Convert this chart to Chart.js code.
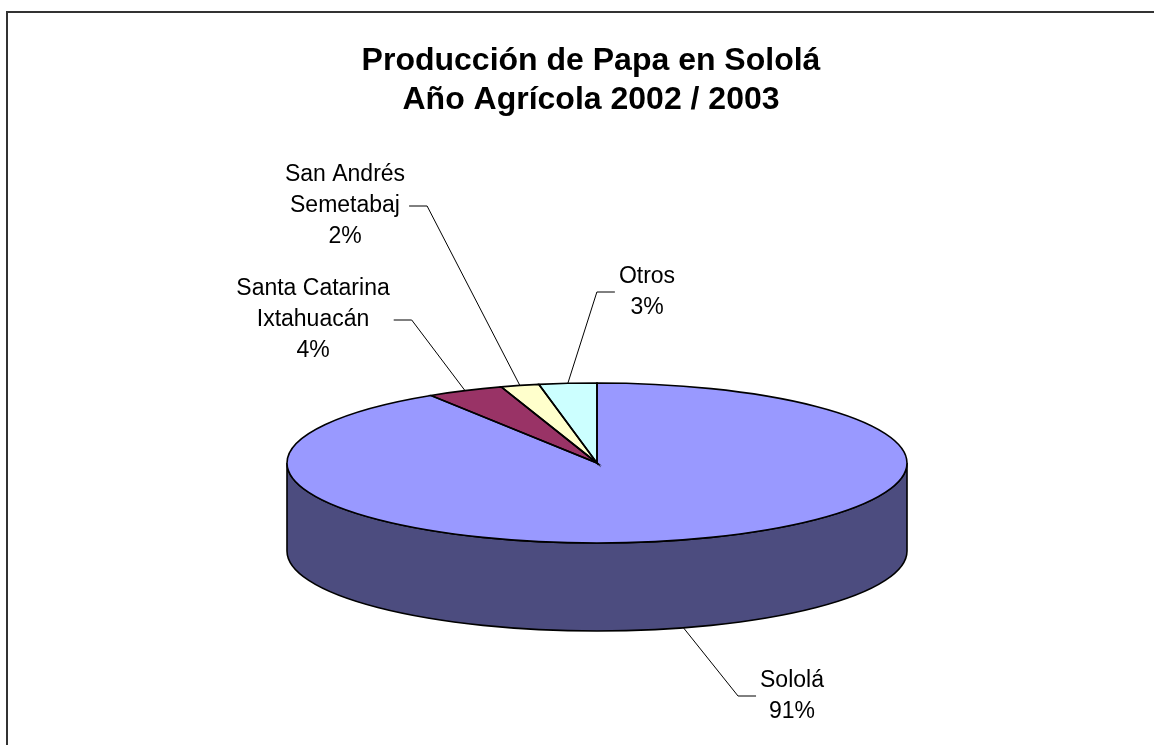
<!DOCTYPE html>
<html>
<head>
<meta charset="utf-8">
<script src="https://cdn.jsdelivr.net/npm/chart.js@4.4.1/dist/chart.umd.min.js"></script>
<style>
  html, body { margin: 0; padding: 0; background: #fff; }
  #wrap { position: relative; width: 1154px; height: 745px; }
</style>
</head>
<body>
<div id="wrap"><canvas id="pie"></canvas></div>
<script>
// datos
const categories = ['Sololá', 'Santa Catarina Ixtahuacán', 'San Andrés Semetabaj', 'Otros'];
const production = [91, 4, 2, 3];
const titleLines = ['Producción de Papa en Sololá', 'Año Agrícola 2002 / 2003'];

// estilo / posiciones
const topColors = ['#9999ff', '#993366', '#ffffcc', '#ccffff'];
const sideColors = ['#4c4c7f', '#4c1933', '#7f7f66', '#667f7f'];
const labelSpots = [
  { x: 792, y: 696, side: 'left' },
  { x: 313, y: 320, side: 'right' },
  { x: 345, y: 206, side: 'right' },
  { x: 647, y: 292, side: 'left' }
];
const PIE_CY = 463;
const TILT = 80 / 310;
const DEPTH = 88;
const FONT = '"Liberation Sans", Arial, sans-serif';
const LINE_GAP = 31;

function geom(arc) {
  return { cx: arc.x, cy: PIE_CY, rx: arc.outerRadius, ry: arc.outerRadius * TILT };
}

function labelLines(name, value, total) {
  const words = name.split(' ');
  const lines = words.length > 1 ? [words.slice(0, -1).join(' '), words[words.length - 1]] : [name];
  lines.push(Math.round(value / total * 100) + '%');
  return lines;
}

const pie3d = {
  id: 'pie3d',
  beforeDraw(chart) {
    const ctx = chart.ctx;
    ctx.save();
    ctx.strokeStyle = '#333';
    ctx.lineWidth = 2;
    ctx.strokeRect(7, 12, 1300, 900);
    ctx.fillStyle = '#000';
    ctx.font = 'bold 32px ' + FONT;
    ctx.textAlign = 'center';
    ctx.textBaseline = 'alphabetic';
    titleLines.forEach((t, i) => ctx.fillText(t, 591, 70 + i * 39));
    ctx.restore();
  },
  beforeDatasetDraw(chart, args) {
    const ctx = chart.ctx;
    const arcs = args.meta.data;
    const g = geom(arcs[0]);
    // paredes laterales (solo la mitad frontal se ve)
    ctx.save();
    ctx.strokeStyle = '#000';
    ctx.lineWidth = 1.6;
    arcs.forEach((arc, i) => {
      for (let k = -1; k <= 1; k++) {
        const lo = Math.max(arc.startAngle, 2 * Math.PI * k);
        const hi = Math.min(arc.endAngle, 2 * Math.PI * k + Math.PI);
        if (hi <= lo) continue;
        ctx.beginPath();
        ctx.ellipse(g.cx, g.cy, g.rx, g.ry, 0, lo, hi);
        ctx.ellipse(g.cx, g.cy + DEPTH, g.rx, g.ry, 0, hi, lo, true);
        ctx.closePath();
        ctx.fillStyle = sideColors[i];
        ctx.fill();
        ctx.stroke();
      }
    });
    ctx.restore();
    // aplastar la cara superior
    ctx.save();
    ctx.translate(0, g.cy);
    ctx.scale(1, TILT);
    ctx.translate(0, -arcs[0].y);
  },
  afterDatasetDraw(chart, args) {
    const ctx = chart.ctx;
    ctx.restore();
    const arcs = args.meta.data;
    const g = geom(arcs[0]);
    const total = production.reduce((a, b) => a + b, 0);

    ctx.save();
    ctx.strokeStyle = '#000';
    ctx.lineWidth = 1.6;
    arcs.forEach(arc => {
      ctx.beginPath();
      ctx.moveTo(g.cx, g.cy);
      ctx.ellipse(g.cx, g.cy, g.rx, g.ry, 0, arc.startAngle, arc.endAngle);
      ctx.closePath();
      ctx.stroke();
    });

    // etiquetas
    ctx.font = '23px ' + FONT;
    ctx.textAlign = 'center';
    ctx.textBaseline = 'middle';
    ctx.fillStyle = '#000';
    ctx.lineWidth = 1;
    arcs.forEach((arc, i) => {
      const spot = labelSpots[i];
      const lines = labelLines(categories[i], production[i], total);
      const w = Math.max(...lines.map(l => ctx.measureText(l).width));
      lines.forEach((l, j) => ctx.fillText(l, spot.x, spot.y + (j - (lines.length - 1) / 2) * LINE_GAP));

      const m = (arc.startAngle + arc.endAngle) / 2;
      const front = Math.sin(m) > 0;
      const ax = g.cx + g.rx * Math.cos(m);
      const ay = g.cy + g.ry * Math.sin(m) + (front ? DEPTH : 0);
      const dir = spot.side === 'left' ? -1 : 1;
      const edge = spot.x + dir * (w / 2 + 4);
      const elbow = edge + dir * 18;
      ctx.beginPath();
      ctx.moveTo(edge, spot.y);
      ctx.lineTo(elbow, spot.y);
      ctx.lineTo(ax, ay);
      ctx.stroke();
    });
    ctx.restore();
  }
};

new Chart(document.getElementById('pie'), {
  type: 'pie',
  data: {
    labels: categories,
    datasets: [{
      data: production,
      backgroundColor: topColors,
      borderWidth: 0,
      clip: false
    }]
  },
  options: {
    responsive: true,
    maintainAspectRatio: false,
    animation: false,
    events: [],
    layout: { padding: { left: 287, right: 247, top: 0, bottom: 0 } },
    plugins: {
      legend: { display: false },
      tooltip: { enabled: false },
      title: { display: false }
    }
  },
  plugins: [pie3d]
});
</script>
</body>
</html>
